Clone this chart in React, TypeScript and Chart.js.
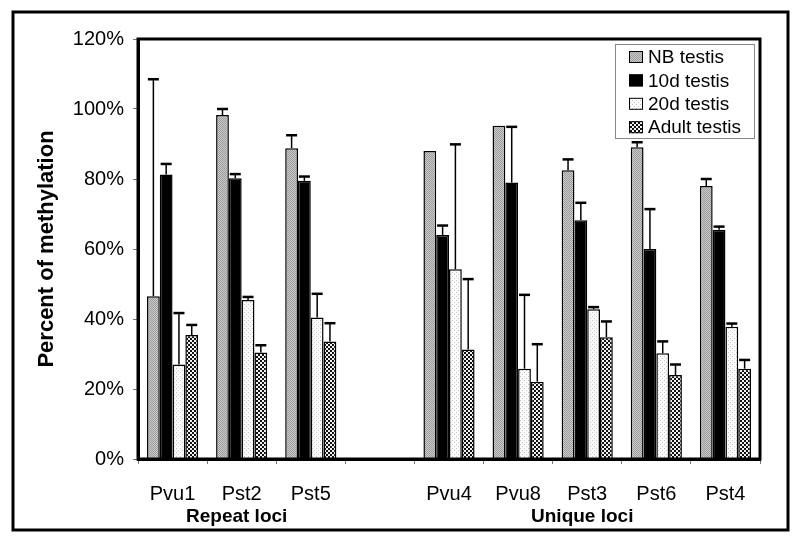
import React, { useEffect, useRef } from "react";
import { Chart, registerables } from "chart.js";

Chart.register(...registerables);

const categories = ["Pvu1", "Pst2", "Pst5", "", "Pvu4", "Pvu8", "Pst3", "Pst6", "Pst4"];
const seriesNames = ["NB testis", "10d testis", "20d testis", "Adult testis"];
const nbValues = [46.5, 98.3, 88.8, null, 88.0, 95.2, 82.5, 89.1, 78.0];
const nbErrors = [62.0, 1.7, 3.7, null, 0, 0, 3.1, 1.4, 2.0];
const d10Values = [81.3, 80.2, 79.5, null, 64.0, 79.0, 68.2, 60.0, 65.5];
const d10Errors = [3.0, 1.2, 1.2, null, 2.7, 15.9, 5.0, 11.4, 0.9];
const d20Values = [27.0, 45.4, 40.4, null, 54.2, 25.8, 42.8, 30.2, 37.8];
const d20Errors = [14.7, 0.9, 6.8, null, 35.7, 21.1, 0.6, 3.4, 0.9];
const adultValues = [35.4, 30.4, 33.6, null, 31.3, 22.1, 34.8, 24.0, 25.8];
const adultErrors = [2.9, 2.1, 5.2, null, 20.1, 10.7, 4.5, 3.0, 2.5];
const groupLabels = ["Repeat loci", "Unique loci"];
const groupCenters = ["Pst2", "Pst3"];
const yTitle = "Percent of methylation";

const FONT = "'Liberation Sans', Arial, Helvetica, sans-serif";

function makePattern(size: number, bg: string, fg: string, pts: number[][], cell = 1) {
  const c = document.createElement("canvas");
  c.width = size;
  c.height = size;
  const x = c.getContext("2d")!;
  x.fillStyle = bg;
  x.fillRect(0, 0, size, size);
  x.fillStyle = fg;
  for (const [px, py] of pts) x.fillRect(px, py, cell, cell);
  const ctx = document.createElement("canvas").getContext("2d")!;
  return ctx.createPattern(c, "repeat")!;
}

export default function App() {
  const ref = useRef<HTMLCanvasElement>(null);
  useEffect(() => {
    document.body.style.margin = "0";
    const canvas = ref.current!;
    const nbPat = makePattern(2, "#cacaca", "#9c9c9c", [[0, 0], [1, 1]]);
    const d20Pat = makePattern(4, "#fbfbfb", "#c4c4c4", [[0, 0], [2, 2]]);
    const adultPat = makePattern(4, "#f2f2f2", "#111111", [[0, 0], [2, 2]], 2);
    const fills: any[] = [nbPat, "#000000", d20Pat, adultPat];
    const values = [nbValues, d10Values, d20Values, adultValues];
    const errors = [nbErrors, d10Errors, d20Errors, adultErrors];

    const extras = {
      id: "extras",
      afterDatasetsDraw(chart: any) {
        const ctx = chart.ctx;
        const ys = chart.scales.y;
        ctx.save();
        ctx.strokeStyle = "#000";
        errors.forEach((errs, i) => {
          const meta = chart.getDatasetMeta(i);
          errs.forEach((e, j) => {
            const v = values[i][j];
            if (e == null || v == null || e <= 0) return;
            const el = meta.data[j];
            const yTop = ys.getPixelForValue(v + e);
            ctx.lineWidth = 1.5;
            ctx.beginPath();
            ctx.moveTo(el.x, el.y);
            ctx.lineTo(el.x, yTop);
            ctx.stroke();
            ctx.lineWidth = 2.5;
            ctx.beginPath();
            ctx.moveTo(el.x - 5.5, yTop);
            ctx.lineTo(el.x + 5.5, yTop);
            ctx.stroke();
          });
        });
        ctx.restore();
      },
      afterDraw(chart: any) {
        const ctx = chart.ctx;
        const a = chart.chartArea;
        const xs = chart.scales.x;
        ctx.save();
        // plot frame
        ctx.strokeStyle = "#000";
        ctx.lineWidth = 3;
        ctx.strokeRect(a.left, a.top, a.right - a.left, a.bottom - a.top);
        // outer frame
        ctx.strokeRect(13, 12, 775, 518);
        // y title
        ctx.fillStyle = "#000";
        ctx.font = `bold 22px ${FONT}`;
        ctx.textAlign = "center";
        ctx.textBaseline = "middle";
        ctx.translate(47, (a.top + a.bottom) / 2);
        ctx.rotate(-Math.PI / 2);
        ctx.fillText(yTitle, 0, 0);
        ctx.setTransform(1, 0, 0, 1, 0, 0);
        // group labels
        ctx.font = `bold 19px ${FONT}`;
        ctx.textBaseline = "alphabetic";
        groupLabels.forEach((g, i) => {
          const cx = xs.getPixelForValue(categories.indexOf(groupCenters[i]));
          ctx.fillText(g, cx - 5, 522);
        });
        // legend
        const lx = 615, ly = 44, lw = 139, lh = 94;
        ctx.fillStyle = "#fff";
        ctx.fillRect(lx, ly, lw, lh);
        ctx.strokeStyle = "#888";
        ctx.lineWidth = 1;
        ctx.strokeRect(lx + 0.5, ly + 0.5, lw, lh);
        ctx.font = `19px ${FONT}`;
        ctx.textAlign = "left";
        ctx.textBaseline = "middle";
        seriesNames.forEach((n, i) => {
          const cy = 57 + i * 23.4;
          ctx.fillStyle = fills[i];
          ctx.fillRect(629, cy - 6, 14, 12);
          ctx.strokeStyle = "#000";
          ctx.lineWidth = 1;
          ctx.strokeRect(629.5, cy - 5.5, 13, 11);
          ctx.fillStyle = "#000";
          ctx.fillText(n, 648, cy + 1);
        });
        ctx.restore();
      },
    };

    const chart = new Chart(canvas, {
      type: "bar",
      data: {
        labels: categories,
        datasets: seriesNames.map((n, i) => ({
          label: n,
          data: values[i] as any,
          backgroundColor: fills[i],
          borderColor: "#000",
          borderWidth: 1.5,
          categoryPercentage: 0.74,
          barPercentage: 1.0,
        })),
      },
      options: {
        responsive: false,
        animation: false,
        devicePixelRatio: 1,
        layout: { padding: { top: 39, right: 40, left: 0, bottom: 0 } },
        plugins: { legend: { display: false }, tooltip: { enabled: false } },
        scales: {
          x: {
            afterFit: (s: any) => { s.height = 85; },
            grid: { drawOnChartArea: false, tickLength: 5, color: "#777", lineWidth: 1, offset: true },
            border: { color: "#000", width: 3 },
            ticks: { color: "#000", font: { size: 20, family: FONT }, padding: 18, maxRotation: 0, autoSkip: false },
          },
          y: {
            min: 0,
            max: 120,
            afterFit: (s: any) => { s.width = 138; },
            grid: { drawOnChartArea: false, tickLength: 5, color: "#777", lineWidth: 1 },
            border: { color: "#000", width: 3 },
            ticks: {
              stepSize: 20,
              color: "#000",
              padding: 9,
              font: { size: 20, family: FONT },
              callback: (v: any) => `${v}%`,
            },
          },
        },
      },
      plugins: [extras],
    });
    return () => chart.destroy();
  }, []);
  return <canvas ref={ref} width={800} height={544} style={{ display: "block", width: 800, height: 544 }} />;
}
